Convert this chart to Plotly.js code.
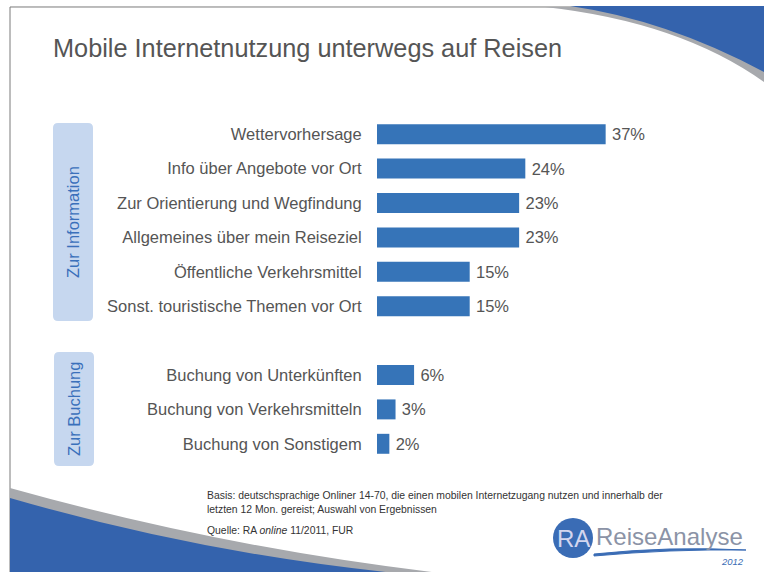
<!DOCTYPE html>
<html>
<head>
<meta charset="utf-8">
<script src="https://cdn.plot.ly/plotly-3.0.1.min.js"></script>
<style>html,body{margin:0;padding:0;background:#fff;}#chart{width:764px;height:572px;}</style>
</head>
<body>
<div id="chart"></div>
<script>
// ---- data ----
const infoLabels = ["Wettervorhersage", "Info über Angebote vor Ort", "Zur Orientierung und Wegfindung",
  "Allgemeines über mein Reiseziel", "Öffentliche Verkehrsmittel", "Sonst. touristische Themen vor Ort"];
const infoValues = [37, 24, 23, 23, 15, 15];
const bookingLabels = ["Buchung von Unterkünften", "Buchung von Verkehrsmitteln", "Buchung von Sonstigem"];
const bookingValues = [6, 3, 2];
const groupNames = ["Zur Information", "Zur Buchung"];
const titleText = "Mobile Internetnutzung unterwegs auf Reisen";
const noteLines = ["Basis: deutschsprachige Onliner 14-70, die einen mobilen Internetzugang nutzen und innerhalb der",
  "letzten 12 Mon. gereist; Auswahl von Ergebnissen"];
const sourceText = "Quelle: RA <i>online</i> 11/2011, FUR";

// ---- layout helpers ----
const W = 764, H = 572, L = 377, R = 78, T = 117, B = 111;
const pw = W - L - R, ph = H - T - B;
const px = x => (x - L) / pw;
const py = y => 1 - (y - T) / ph;
const P = (x, y) => px(x).toFixed(5) + "," + py(y).toFixed(5);

const spacer = " ";
const cats = infoLabels.concat([spacer], bookingLabels);
const vals = infoValues.concat([null], bookingValues);

const blue = "#3674b8";
const grey = "#a7a9ad";
const swBlue = "#3463ad";
const FONT = "Liberation Sans, Arial, sans-serif";

function roundRect(x0, y0, x1, y1, r) {
  return "M" + P(x0 + r, y0) + " L" + P(x1 - r, y0) + " Q" + P(x1, y0) + " " + P(x1, y0 + r) +
    " L" + P(x1, y1 - r) + " Q" + P(x1, y1) + " " + P(x1 - r, y1) +
    " L" + P(x0 + r, y1) + " Q" + P(x0, y1) + " " + P(x0, y1 - r) +
    " L" + P(x0, y0 + r) + " Q" + P(x0, y0) + " " + P(x0 + r, y0) + " Z";
}

const shapes = [
  {type: "path", xref: "paper", yref: "paper", layer: "below",
   path: "M" + P(10, 600) + " L" + P(10, 7) + " L" + P(800, 7),
   line: {color: "#7a7a7a", width: 1}},
  {type: "path", xref: "paper", yref: "paper", layer: "below",
   path: "M" + P(545, 7) + " Q" + P(680, 22) + " " + P(764, 82) + " L" + P(764, 7) + " Z",
   fillcolor: grey, line: {width: 0}},
  {type: "path", xref: "paper", yref: "paper", layer: "below",
   path: "M" + P(570, 6) + " Q" + P(667, 20) + " " + P(764, 72) + " L" + P(764, 6) + " Z",
   fillcolor: swBlue, line: {width: 0}},
  {type: "path", xref: "paper", yref: "paper", layer: "below",
   path: "M" + P(10, 488) + " Q" + P(220, 547) + " " + P(440, 573) + " L" + P(10, 573) + " Z",
   fillcolor: grey, line: {width: 0}},
  {type: "path", xref: "paper", yref: "paper", layer: "below",
   path: "M" + P(10, 498) + " Q" + P(200, 553) + " " + P(395, 573) + " L" + P(10, 573) + " Z",
   fillcolor: swBlue, line: {width: 0}},
  {type: "path", xref: "paper", yref: "paper", layer: "below",
   path: roundRect(53, 123, 93, 321, 5), fillcolor: "#c6d7ef", line: {width: 0}},
  {type: "path", xref: "paper", yref: "paper", layer: "below",
   path: roundRect(54, 352, 94, 466, 5), fillcolor: "#c6d7ef", line: {width: 0}},
  {type: "circle", xref: "paper", yref: "paper", layer: "below",
   x0: px(553), x1: px(593), y0: py(558), y1: py(518),
   fillcolor: "#3a6cb5", line: {width: 0}},
  {type: "path", xref: "paper", yref: "paper", layer: "below",
   path: "M" + P(594, 554) + " Q" + P(670, 546) + " " + P(746, 550) + " Q" + P(670, 549) + " " + P(594, 556) + " Z",
   fillcolor: "#3a6cb5", line: {color: "#3a6cb5", width: 1}}
];

const annotations = [
  {text: groupNames[0], xref: "paper", yref: "paper", x: px(73), y: py(222), textangle: -90,
   showarrow: false, xanchor: "center", yanchor: "middle",
   font: {family: FONT, size: 16.5, color: "#3a70bb"}},
  {text: groupNames[1], xref: "paper", yref: "paper", x: px(74), y: py(409), textangle: -90,
   showarrow: false, xanchor: "center", yanchor: "middle",
   font: {family: FONT, size: 16.5, color: "#3a70bb"}},
  {text: noteLines[0], xref: "paper", yref: "paper", x: px(205), y: py(495), showarrow: false,
   xanchor: "left", yanchor: "middle", font: {family: FONT, size: 10.4, color: "#333"}},
  {text: noteLines[1], xref: "paper", yref: "paper", x: px(205), y: py(509), showarrow: false,
   xanchor: "left", yanchor: "middle", font: {family: FONT, size: 10.4, color: "#333"}},
  {text: sourceText, xref: "paper", yref: "paper", x: px(205), y: py(530), showarrow: false,
   xanchor: "left", yanchor: "middle", font: {family: FONT, size: 10.4, color: "#333"}},
  {text: "RA", xref: "paper", yref: "paper", x: px(573), y: py(538), showarrow: false,
   xanchor: "center", yanchor: "middle", font: {family: "Liberation Sans Narrow, Liberation Sans, sans-serif", size: 24, color: "#d3d6ef"}},
  {text: "ReiseAnalyse", xref: "paper", yref: "paper", x: px(594), y: py(536), showarrow: false,
   xanchor: "left", yanchor: "middle", font: {family: FONT, size: 24, color: "#8b93a6"}},
  {text: "<i>2012</i>", xref: "paper", yref: "paper", x: px(746), y: py(561), showarrow: false,
   xanchor: "right", yanchor: "middle", font: {family: FONT, size: 9.5, color: "#3a6cb5"}}
];

const trace = {
  type: "bar", orientation: "h",
  y: cats, x: vals,
  marker: {color: blue, line: {width: 0}},
  width: 0.58,
  text: vals.map(v => v == null ? "" : "\u2009" + v + "%"),
  textposition: "outside",
  textfont: {family: FONT, size: 16.5, color: "#555"},
  cliponaxis: false,
  hoverinfo: "skip"
};

const layout = {
  width: W, height: H,
  margin: {l: L, r: R, t: T, b: B, pad: 0},
  paper_bgcolor: "#fff", plot_bgcolor: "rgba(0,0,0,0)",
  showlegend: false,
  title: {text: titleText, xref: "container", yref: "container", x: 53 / W, xanchor: "left",
          y: 1 - 48 / H, yanchor: "middle",
          font: {family: FONT, size: 25.3, color: "#555"}},
  xaxis: {range: [0, 50], visible: false, fixedrange: true},
  yaxis: {type: "category", categoryorder: "array", categoryarray: cats,
          range: [cats.length - 0.5, -0.5], showgrid: false, zeroline: false, showline: false,
          ticks: "outside", ticklen: 11, tickcolor: "rgba(0,0,0,0)",
          tickfont: {family: FONT, size: 16.5, color: "#555"},
          fixedrange: true},
  shapes: shapes,
  annotations: annotations
};

Plotly.newPlot("chart", [trace], layout, {displayModeBar: false, staticPlot: true});
</script>
</body>
</html>
